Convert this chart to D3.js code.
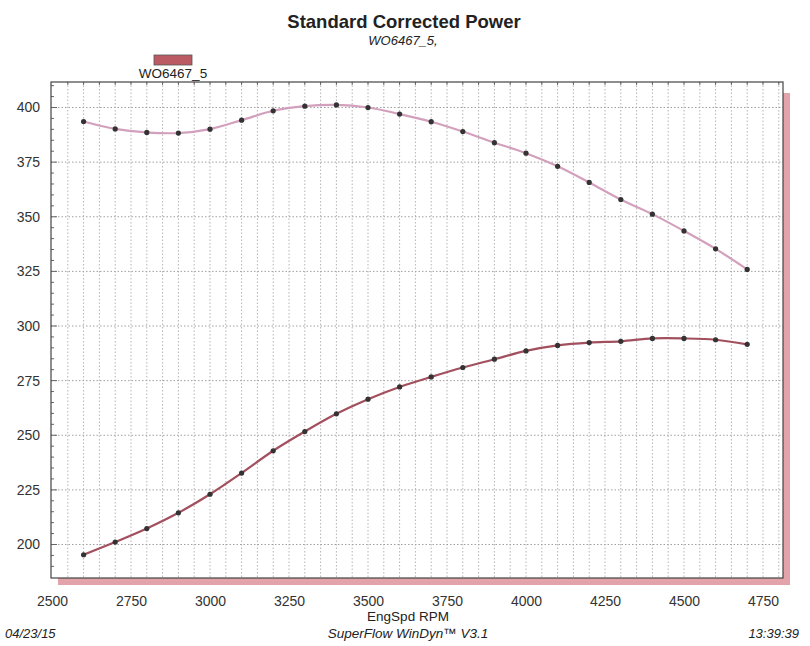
<!DOCTYPE html>
<html>
<head>
<meta charset="utf-8">
<script src="https://cdn.jsdelivr.net/npm/d3@7"></script>
<style>
  body { margin: 0; background: #fff; }
  svg { font-family: "Liberation Sans", Arial, sans-serif; }
</style>
</head>
<body>
<svg width="810" height="646"></svg>
<script>
var rpm = [2600, 2700, 2800, 2900, 3000, 3100, 3200, 3300, 3400, 3500, 3600,
           3700, 3800, 3900, 4000, 4100, 4200, 4300, 4400, 4500, 4600, 4700];
var torque = [393.6, 390.2, 388.6, 388.3, 390.1, 394.2, 398.5, 400.6, 401.2, 400.0, 397.0,
              393.5, 389.0, 383.9, 379.1, 373.1, 365.7, 357.9, 351.2, 343.5, 335.3, 325.9];
var power = [195.3, 201.1, 207.3, 214.5, 223.0, 232.7, 242.9, 251.7, 259.8, 266.5, 272.1,
             276.7, 281.0, 284.8, 288.6, 291.1, 292.4, 293.0, 294.3, 294.3, 293.7, 291.6];
var xTicks = [2500, 2750, 3000, 3250, 3500, 3750, 4000, 4250, 4500, 4750];
var yTicks = [200, 225, 250, 275, 300, 325, 350, 375, 400];

var svg = d3.select("svg");

var plotL = 51, plotR = 783, plotT = 82, plotB = 578;

var x = d3.scaleLinear().domain([2500, 4750]).range([52, 763]);
var y = d3.scaleLinear().domain([200, 400]).range([544.5, 107.5]);

// shadow
svg.append("rect").attr("x", plotR).attr("y", plotT + 11).attr("width", 7).attr("height", plotB - plotT - 4)
    .attr("fill", "#e2a3ab");
svg.append("rect").attr("x", plotL + 7).attr("y", plotB).attr("width", plotR - plotL).attr("height", 7)
    .attr("fill", "#e2a3ab");

svg.append("rect").attr("x", plotL).attr("y", plotT).attr("width", plotR - plotL).attr("height", plotB - plotT)
    .attr("fill", "#fff");

// grid
var vgrid = d3.range(2550, x.invert(plotR), 50);
svg.append("g").selectAll("line").data(vgrid).enter().append("line")
    .attr("x1", function(d) { return x(d); }).attr("x2", function(d) { return x(d); })
    .attr("y1", plotT).attr("y2", plotB)
    .attr("stroke", "#b4b4b4").attr("stroke-width", 1).attr("stroke-dasharray", "1.5,2");

svg.append("g").selectAll("line").data(yTicks).enter().append("line")
    .attr("x1", plotL).attr("x2", plotR)
    .attr("y1", function(d) { return y(d); }).attr("y2", function(d) { return y(d); })
    .attr("stroke", "#a0a0a0").attr("stroke-width", 1).attr("stroke-dasharray", "1.5,2");

// minor ticks
var yMinor = d3.range(190, 411, 5);
svg.append("g").selectAll("line").data(yMinor).enter().append("line")
    .attr("x1", plotL).attr("x2", function(d) { return d % 25 === 0 ? plotL + 6 : plotL + 3; })
    .attr("y1", function(d) { return y(d); }).attr("y2", function(d) { return y(d); })
    .attr("stroke", "#666");
svg.append("g").selectAll("line").data(vgrid).enter().append("line")
    .attr("x1", function(d) { return x(d); }).attr("x2", function(d) { return x(d); })
    .attr("y1", plotT).attr("y2", plotT + 3)
    .attr("stroke", "#666");

// frame
svg.append("rect").attr("x", plotL).attr("y", plotT).attr("width", plotR - plotL).attr("height", plotB - plotT)
    .attr("fill", "none").attr("stroke", "#444").attr("stroke-width", 1.2);

// axes labels
var xAxis = d3.axisBottom(x).tickValues(xTicks).tickFormat(d3.format("d")).tickSize(0).tickPadding(0);
var gx = svg.append("g").attr("transform", "translate(0," + 596 + ")").call(xAxis);
gx.select(".domain").remove();
gx.selectAll("text").attr("font-size", 14).attr("fill", "#333").attr("dy", "0.71em")
    .style("font-family", "Liberation Sans, Arial, sans-serif");

var yAxis = d3.axisLeft(y).tickValues(yTicks).tickSize(0).tickPadding(0);
var gy = svg.append("g").attr("transform", "translate(40,0)").call(yAxis);
gy.select(".domain").remove();
gy.selectAll("text").attr("font-size", 14).attr("fill", "#333")
    .style("font-family", "Liberation Sans, Arial, sans-serif");

// curves
var torqueData = rpm.map(function(r, i) { return [r, torque[i]]; });
var powerData = rpm.map(function(r, i) { return [r, power[i]]; });

var line = d3.line()
    .x(function(d) { return x(d[0]); })
    .y(function(d) { return y(d[1]); })
    .curve(d3.curveCatmullRom);

svg.append("path").datum(torqueData).attr("d", line)
    .attr("fill", "none").attr("stroke", "#d2a0bc").attr("stroke-width", 2.2);
svg.append("path").datum(powerData).attr("d", line)
    .attr("fill", "none").attr("stroke", "#a24f5e").attr("stroke-width", 2.2);

[torqueData, powerData].forEach(function(data) {
    svg.append("g").selectAll("circle").data(data).enter().append("circle")
        .attr("cx", function(d) { return x(d[0]); })
        .attr("cy", function(d) { return y(d[1]); })
        .attr("r", 2.6)
        .attr("fill", "#333");
});

// titles
svg.append("text").attr("x", 404).attr("y", 28).attr("text-anchor", "middle")
    .attr("font-size", 18.5).attr("font-weight", "bold").attr("fill", "#222")
    .text("Standard Corrected Power");
svg.append("text").attr("x", 403).attr("y", 45).attr("text-anchor", "middle")
    .attr("font-size", 13).attr("font-style", "italic").attr("fill", "#222")
    .text("WO6467_5,");

// legend
svg.append("rect").attr("x", 154).attr("y", 55).attr("width", 38).attr("height", 10)
    .attr("fill", "#bc5a64").attr("stroke", "#555").attr("stroke-width", 0.8);
svg.append("text").attr("x", 173).attr("y", 78).attr("text-anchor", "middle")
    .attr("font-size", 13.5).attr("fill", "#222").text("WO6467_5");

// x title and footer
svg.append("text").attr("x", 408).attr("y", 621).attr("text-anchor", "middle")
    .attr("font-size", 13.5).attr("fill", "#222").text("EngSpd RPM");
svg.append("text").attr("x", 5).attr("y", 638)
    .attr("font-size", 13).attr("font-style", "italic").attr("fill", "#222").text("04/23/15");
svg.append("text").attr("x", 408).attr("y", 638).attr("text-anchor", "middle")
    .attr("font-size", 13.5).attr("font-style", "italic").attr("fill", "#222").text("SuperFlow WinDyn\u2122 V3.1");
svg.append("text").attr("x", 799).attr("y", 638).attr("text-anchor", "end")
    .attr("font-size", 13).attr("font-style", "italic").attr("fill", "#222").text("13:39:39");
</script>
</body>
</html>
